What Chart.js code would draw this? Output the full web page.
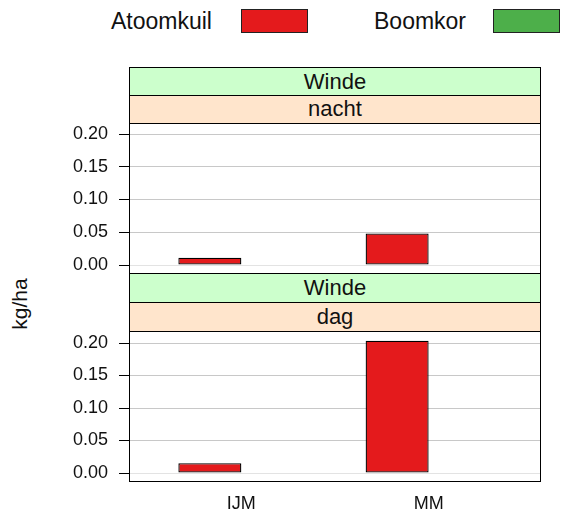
<!DOCTYPE html>
<html>
<head>
<meta charset="utf-8">
<script src="https://cdn.jsdelivr.net/npm/chart.js@4"></script>
<style>
    body { margin: 0; background: #fff; font-family: "Liberation Sans", Arial, sans-serif; }
    #wrap { position: relative; width: 562px; height: 511px; overflow: hidden; }
    .abs { position: absolute; }
    .strip { position: absolute; left: 129px; width: 412px; box-sizing: border-box; border: 1px solid #000;
             text-align: center; font-size: 22px; color: #111; }
    .green { background: #ccffcc; }
    .peach { background: #ffe5cc; }
    .legtext { position: absolute; top: 8px; font-size: 23px; color: #111; }
    .legbox { position: absolute; top: 9px; width: 67px; height: 24px; box-sizing: border-box; border: 1px solid #222; }
    #ylab { position: absolute; left: 20px; top: 304px; font-size: 21px; color: #111;
            transform: translate(-50%, -50%) rotate(-90deg); white-space: nowrap; }
</style>
</head>
<body>
<div id="wrap">
    <div class="legtext" style="left:111px">Atoomkuil</div>
    <div class="legbox" style="left:241px;background:#e41a1c"></div>
    <div class="legtext" style="left:374px">Boomkor</div>
    <div class="legbox" style="left:493px;background:#4daf4a"></div>

    <div class="strip green" style="top:67px;height:29px;line-height:27px">Winde</div>
    <div class="strip peach" style="top:95px;height:29px;line-height:26px">nacht</div>
    <div class="strip green" style="top:273px;height:30px;line-height:28px">Winde</div>
    <div class="strip peach" style="top:302px;height:30px;line-height:27px">dag</div>

    <div id="ylab">kg/ha</div>

    <canvas id="nachtChart" class="abs" style="left:0;top:113px" width="562" height="170"></canvas>
    <canvas id="dagChart" class="abs" style="left:0;top:321px" width="562" height="190"></canvas>
</div>

<script>
const categories = ['IJM', 'MM'];
const seriesNames = ['Atoomkuil', 'Boomkor'];
const nachtAtoomkuil = [0.011, 0.048];
const nachtBoomkor = [null, null];
const dagAtoomkuil = [0.015, 0.2035];
const dagBoomkor = [null, null];
const yTicks = [0.00, 0.05, 0.10, 0.15, 0.20];

// box round the plot area, like a lattice panel
const panelBox = {
    id: 'panelBox',
    afterDraw(chart) {
        const a = chart.chartArea;
        const ctx = chart.ctx;
        ctx.save();
        ctx.strokeStyle = '#000';
        ctx.lineWidth = 1;
        ctx.strokeRect(Math.round(a.left) + 0.5, Math.round(a.top) + 0.5,
            Math.round(a.right - a.left) - 1, Math.round(a.bottom - a.top));
        ctx.restore();
    }
};

function makePanel(id, atoom, boom, showX, yMin, yMax) {
    const toPoints = vals => vals.map((v, i) => ({ x: i, y: v }));
    return new Chart(document.getElementById(id), {
        type: 'bar',
        data: {
            datasets: [{
                label: seriesNames[0],
                data: toPoints(atoom),
                backgroundColor: '#e41a1c',
                borderColor: '#000',
                borderWidth: 1.3,
                borderSkipped: false
            }, {
                label: seriesNames[1],
                data: toPoints(boom),
                backgroundColor: '#4daf4a',
                borderColor: '#000',
                borderWidth: 1.3,
                borderSkipped: false
            }]
        },
        options: {
            responsive: false,
            animation: false,
            categoryPercentage: 0.673,
            barPercentage: 1.0,
            layout: { padding: { left: 0, right: 21, top: 10, bottom: showX ? 0 : 10 } },
            plugins: { legend: { display: false }, tooltip: { enabled: false } },
            scales: {
                x: {
                    type: 'linear',
                    min: -0.6,
                    max: 1.6,
                    offset: false,
                    display: showX,
                    grid: { display: false },
                    border: { display: false },
                    afterBuildTicks: s => { s.ticks = categories.map((c, i) => ({ value: i })); },
                    afterFit: s => {
                        if (showX) s.height = 30;
                        s.paddingLeft = 0;
                        s.paddingRight = 0;
                    },
                    ticks: {
                        padding: 4,
                        color: '#111',
                        font: { family: 'Liberation Sans', size: 18 },
                        callback: v => categories[v]
                    }
                },
                y: {
                    min: yMin,
                    max: yMax,
                    afterBuildTicks: s => { s.ticks = yTicks.map(v => ({ value: v })); },
                    afterFit: s => {
                        s.width = 129;
                        s.paddingTop = 0;
                        s.paddingBottom = 0;
                    },
                    border: { display: false },
                    grid: {
                        color: ctx => (ctx.tick && ctx.tick.value === 0) ? '#e3e3e3' : '#c8c8c8',
                        tickColor: '#000',
                        tickLength: 10,
                        lineWidth: 1
                    },
                    ticks: {
                        padding: 11,
                        color: '#111',
                        font: { family: 'Liberation Sans', size: 18 },
                        callback: v => v.toFixed(2)
                    }
                }
            }
        },
        plugins: [panelBox]
    });
}

makePanel('nachtChart', nachtAtoomkuil, nachtBoomkor, false, -0.0122, 0.2168);
makePanel('dagChart', dagAtoomkuil, dagBoomkor, true, -0.0123, 0.2185);
</script>
</body>
</html>
